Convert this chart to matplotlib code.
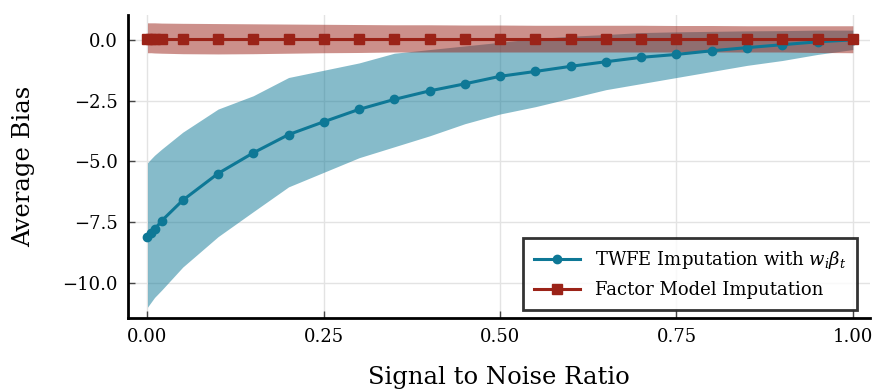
import matplotlib
matplotlib.use("Agg")
import matplotlib.pyplot as plt

plt.rcParams["font.family"] = ["DejaVu Serif"]
plt.rcParams["mathtext.fontset"] = "dejavuserif"

# signal to noise ratio grid
snr = [0.0, 0.005, 0.01, 0.02, 0.05, 0.1, 0.15, 0.2, 0.25, 0.3, 0.35, 0.4,
       0.45, 0.5, 0.55, 0.6, 0.65, 0.7, 0.75, 0.8, 0.85, 0.9, 0.95, 1.0]

# TWFE imputation: mean bias and band
twfe_mean = [-8.1, -7.95, -7.8, -7.45, -6.6, -5.5, -4.65, -3.9, -3.37, -2.86,
             -2.45, -2.1, -1.81, -1.5, -1.3, -1.09, -0.9, -0.72, -0.6, -0.45,
             -0.32, -0.2, -0.08, 0.0]
twfe_lo = [-11.0, -10.8, -10.6, -10.3, -9.35, -8.1, -7.07, -6.05, -5.45, -4.85,
           -4.4, -3.95, -3.45, -3.05, -2.75, -2.4, -2.05, -1.8, -1.55, -1.3,
           -1.05, -0.85, -0.6, -0.4]
twfe_hi = [-5.06, -4.9, -4.75, -4.5, -3.8, -2.85, -2.3, -1.55, -1.25, -0.95,
           -0.55, -0.4, -0.25, -0.1, 0.05, 0.15, 0.22, 0.3, 0.33, 0.35, 0.37,
           0.38, 0.4, 0.4]

# factor model imputation
fm_mean = [0.03] * len(snr)
fm_lo = [-0.53, -0.53, -0.54, -0.55, -0.57, -0.58, -0.57, -0.55, -0.53, -0.52,
         -0.5, -0.5, -0.5, -0.5, -0.5, -0.5, -0.5, -0.5, -0.5, -0.5, -0.5,
         -0.5, -0.52, -0.53]
fm_hi = [0.7, 0.7, 0.7, 0.69, 0.68, 0.67, 0.66, 0.65, 0.64, 0.63, 0.62, 0.62,
         0.61, 0.61, 0.6, 0.6, 0.6, 0.6, 0.59, 0.59, 0.58, 0.58, 0.58, 0.58]

blue = "#0e7896"
red = "#9b2318"

fig = plt.figure(figsize=(8.75, 3.9), dpi=100)
ax = fig.add_axes([0.146, 0.185, 0.848, 0.777])

ax.fill_between(snr, twfe_lo, twfe_hi, color=blue, alpha=0.5, lw=0)
ax.plot(snr, twfe_mean, color=blue, lw=2.2, marker="o", ms=6,
        label=r"TWFE Imputation with $w_i\beta_t$")
ax.fill_between(snr, fm_lo, fm_hi, color=red, alpha=0.5, lw=0)
ax.plot(snr, fm_mean, color=red, lw=2.2, marker="s", ms=7,
        label="Factor Model Imputation")

ax.set_xlim(-0.028, 1.024)
ax.set_ylim(-11.44, 1.03)
ax.set_xticks([0.0, 0.25, 0.5, 0.75, 1.0])
ax.set_xticklabels(["0.00", "0.25", "0.50", "0.75", "1.00"])
ax.set_yticks([0.0, -2.5, -5.0, -7.5, -10.0])
ax.set_yticklabels(["0.0", "\u22122.5", "\u22125.0", "\u22127.5", "\u221210.0"])
ax.grid(True, color="#e3e3e3", lw=1)
ax.set_axisbelow(True)

for s in ["top", "right"]:
    ax.spines[s].set_visible(False)
for s in ["left", "bottom"]:
    ax.spines[s].set_linewidth(2)
ax.tick_params(direction="in", length=5, width=1, color="#444444",
               labelsize=13, pad=7)

ax.set_xlabel("Signal to Noise Ratio", fontsize=17.5, labelpad=15)
ax.set_ylabel("Average Bias", fontsize=17.5, labelpad=20)

leg = ax.legend(loc="lower right", fontsize=13, frameon=True, fancybox=False,
                edgecolor="black", borderpad=0.6, handlelength=2.6,
                labelspacing=0.55, borderaxespad=0,
                bbox_to_anchor=(0.983, 0.027))
leg.get_frame().set_linewidth(2)

fig.savefig("out.png", dpi=100)
